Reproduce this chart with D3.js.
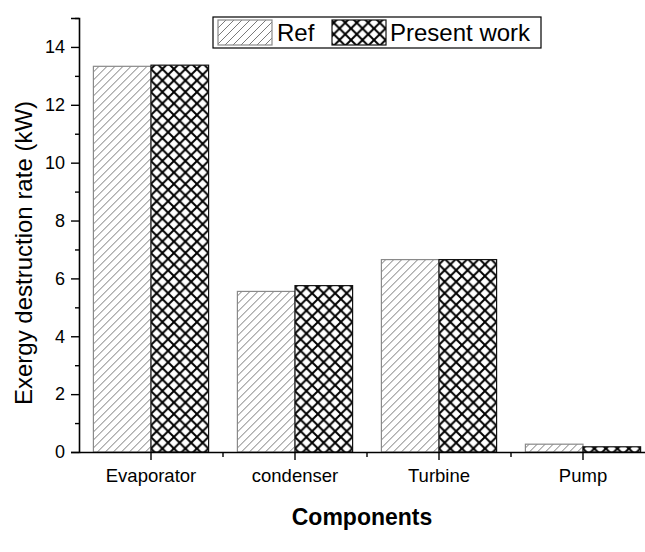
<!DOCTYPE html>
<html>
<head>
<meta charset="utf-8">
<script src="https://cdn.jsdelivr.net/npm/d3@7"></script>
<style>
  html, body { margin: 0; padding: 0; background: #fff; }
  svg { display: block; font-family: "Liberation Sans", Arial, sans-serif; }
</style>
</head>
<body>
<svg id="chart" width="645" height="552"></svg>
<script>
// Exergy destruction rate per component (kW)
const categories = ["Evaporator", "condenser", "Turbine", "Pump"];
const refValues = [13.33, 5.55, 6.65, 0.27];
const presentValues = [13.37, 5.75, 6.65, 0.18];
const seriesNames = ["Ref", "Present work"];
const yTicks = [0, 2, 4, 6, 8, 10, 12, 14];
const yMinorTicks = [1, 3, 5, 7, 9, 11, 13, 15];

const svg = d3.select("#chart");
const plot = { left: 79, right: 655, top: 18, bottom: 452 };

const x = d3.scaleBand()
  .domain(categories)
  .range([plot.left, plot.right])
  .paddingInner(0.2)
  .paddingOuter(0.1);
const xSeries = d3.scaleBand()
  .domain(seriesNames)
  .range([0, x.bandwidth()]);
const y = d3.scaleLinear().domain([0, 15]).range([plot.bottom, plot.top]);

// Hatch fills
const defs = svg.append("defs");
const diag = defs.append("pattern")
  .attr("id", "hatchRef")
  .attr("patternUnits", "userSpaceOnUse")
  .attr("width", 8).attr("height", 8);
diag.append("rect").attr("width", 8).attr("height", 8).attr("fill", "#fff");
diag.append("path")
  .attr("d", "M-2,2 L2,-2 M0,8 L8,0 M6,10 L10,6")
  .attr("stroke", "#7a7a7a").attr("stroke-width", 1);

const cs = 11.5;
const cross = defs.append("pattern")
  .attr("id", "hatchPresent")
  .attr("patternUnits", "userSpaceOnUse")
  .attr("width", cs).attr("height", cs);
cross.append("rect").attr("width", cs).attr("height", cs).attr("fill", "#fff");
cross.append("path")
  .attr("d", `M0,0 L${cs},${cs} M${cs},0 L0,${cs}`)
  .attr("stroke", "#000").attr("stroke-width", 2);

const fills = { "Ref": "url(#hatchRef)", "Present work": "url(#hatchPresent)" };
const strokes = { "Ref": "#8a8a8a", "Present work": "#111" };

const rows = categories.map((c, i) => ({
  category: c,
  values: [
    { series: "Ref", value: refValues[i] },
    { series: "Present work", value: presentValues[i] }
  ]
}));

// Bars
const groups = svg.append("g").selectAll("g")
  .data(rows).join("g")
  .attr("transform", d => `translate(${x(d.category)},0)`);
groups.selectAll("rect")
  .data(d => d.values).join("rect")
  .attr("x", d => xSeries(d.series))
  .attr("y", d => y(d.value))
  .attr("width", xSeries.bandwidth())
  .attr("height", d => y(0) - y(d.value))
  .attr("fill", d => fills[d.series])
  .attr("stroke", d => strokes[d.series])
  .attr("stroke-width", 1.2);

// Y axis
const yAxis = svg.append("g")
  .attr("transform", `translate(${plot.left},0)`)
  .call(d3.axisLeft(y).tickValues(yTicks).tickSize(8).tickPadding(6).tickFormat(d3.format("d")));
yAxis.select(".domain").attr("stroke", "#000").attr("stroke-width", 1.6);
yAxis.selectAll(".tick line").attr("stroke", "#000").attr("stroke-width", 1.4);
yAxis.selectAll(".tick text").attr("font-size", 18).attr("fill", "#000");
svg.append("g")
  .attr("transform", `translate(${plot.left},0)`)
  .call(d3.axisLeft(y).tickValues(yMinorTicks).tickSize(4).tickFormat(""))
  .call(g => g.select(".domain").remove())
  .selectAll(".tick line").attr("stroke", "#000").attr("stroke-width", 1.4);

// X axis
const xAxis = svg.append("g")
  .attr("transform", `translate(0,${plot.bottom})`)
  .call(d3.axisBottom(x).tickSize(8).tickSizeOuter(0).tickPadding(9));
xAxis.select(".domain").attr("stroke", "#000").attr("stroke-width", 1.6);
xAxis.selectAll(".tick line").attr("stroke", "#000").attr("stroke-width", 1.4);
xAxis.selectAll(".tick text").attr("font-size", 18.5).attr("fill", "#000");
const boundaries = categories.slice(0, -1).map(c => x(c) + x.bandwidth() + x.step() * x.paddingInner() / 2);
svg.append("g").selectAll("line")
  .data(boundaries).join("line")
  .attr("x1", d => d).attr("x2", d => d)
  .attr("y1", plot.bottom).attr("y2", plot.bottom + 5)
  .attr("stroke", "#000").attr("stroke-width", 1.4);

// Axis titles
svg.append("text")
  .attr("transform", `translate(32,${(plot.top + plot.bottom) / 2 + 18}) rotate(-90)`)
  .attr("text-anchor", "middle")
  .attr("font-size", 24)
  .text("Exergy destruction rate (kW)");
svg.append("text")
  .attr("x", (plot.left + 645) / 2)
  .attr("y", 525)
  .attr("text-anchor", "middle")
  .attr("font-size", 23)
  .attr("font-weight", "bold")
  .text("Components");

// Legend
const legend = svg.append("g").attr("transform", "translate(213,17)");
legend.append("rect")
  .attr("width", 328).attr("height", 31)
  .attr("fill", "#fff").attr("stroke", "#000").attr("stroke-width", 1.2);
const legendItems = [
  { series: "Ref", sx: 5, tx: 64 },
  { series: "Present work", sx: 119, tx: 177 }
];
legendItems.forEach(it => {
  legend.append("rect")
    .attr("x", it.sx).attr("y", 3)
    .attr("width", 54).attr("height", 25)
    .attr("fill", fills[it.series])
    .attr("stroke", strokes[it.series]).attr("stroke-width", 1.2);
  legend.append("text")
    .attr("x", it.tx).attr("y", 24)
    .attr("font-size", 24)
    .text(it.series);
});
</script>
</body>
</html>
